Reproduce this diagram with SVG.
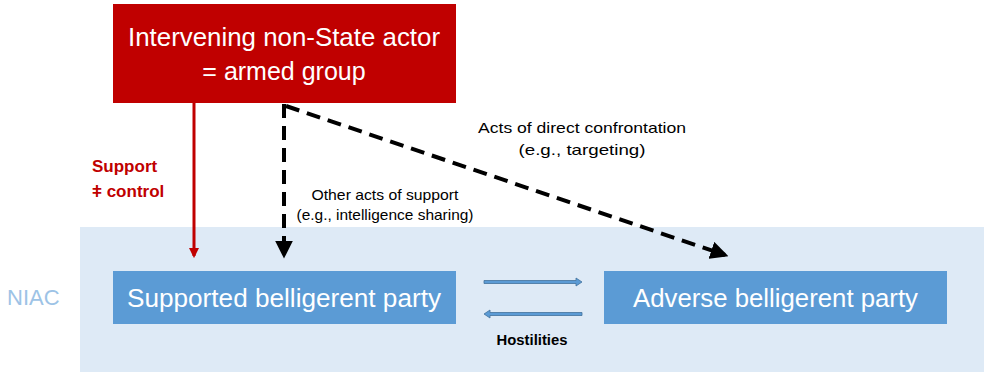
<svg xmlns="http://www.w3.org/2000/svg" width="984" height="372" viewBox="0 0 984 372">
  <defs>
    <style>
      text { font-family: "Liberation Sans", "Open Sans", sans-serif; }
      .box-red { fill: #C00000; }
      .box-blue { fill: #5B9BD5; }
      .t-box { fill: #FFFFFF; font-size: 25px; text-anchor: middle; }
      .t-lbl { fill: #000000; font-size: 15px; text-anchor: middle; }
      .dash { stroke: #000000; stroke-width: 4; stroke-dasharray: 14 8; fill: none; }
      .hostile { fill: #5B9BD5; stroke: #41719C; stroke-width: 0.8; }
    </style>
    <marker id="ah-black" viewBox="0 0 10 10" refX="8" refY="5" markerWidth="4.5" markerHeight="4.5" orient="auto" markerUnits="strokeWidth">
      <path d="M0,0 L10,5 L0,10 Z" fill="#000000"/>
    </marker>
    <marker id="ah-red" viewBox="0 0 10 10" refX="8" refY="5" markerWidth="3.5" markerHeight="3.5" orient="auto" markerUnits="strokeWidth">
      <path d="M0,0 L10,5 L0,10 Z" fill="#C00000"/>
    </marker>
  </defs>

  <!-- NIAC zone -->
  <g id="niac">
    <rect x="80" y="227" width="904" height="145" fill="#DEEAF6"/>
    <text x="7" y="305" font-size="22" fill="#9DC3E6">NIAC</text>
  </g>

  <!-- connectors -->
  <g id="connectors">
    <line x1="194" y1="103" x2="194" y2="256" stroke="#C00000" stroke-width="3" marker-end="url(#ah-red)"/>
    <line class="dash" x1="284" y1="104" x2="284" y2="255" marker-end="url(#ah-black)"/>
    <line class="dash" x1="286" y1="106" x2="725" y2="255" marker-end="url(#ah-black)"/>
    <polygon class="hostile" points="484,280.5 576,280.5 576,278 582,282 576,286 576,283.5 484,283.5"/>
    <polygon class="hostile" points="582,312.5 490,312.5 490,310 484,314 490,318 490,315.5 582,315.5"/>
  </g>

  <g id="actor">
    <rect class="box-red" x="113" y="4" width="343" height="99"/>
    <text class="t-box" x="284" y="46" font-size="27" textLength="312" lengthAdjust="spacingAndGlyphs">Intervening non-State actor</text>
    <text class="t-box" x="284" y="80" font-size="27">= armed group</text>
  </g>

  <g id="supported">
    <rect class="box-blue" x="113" y="271" width="343" height="53"/>
    <text class="t-box" x="284" y="307" textLength="314" lengthAdjust="spacingAndGlyphs">Supported belligerent party</text>
  </g>

  <g id="adverse">
    <rect class="box-blue" x="604" y="271" width="343" height="53"/>
    <text class="t-box" x="775.5" y="307" textLength="285" lengthAdjust="spacingAndGlyphs">Adverse belligerent party</text>
  </g>

  <g id="labels">
    <text x="92" y="172" font-size="17" font-weight="bold" fill="#C00000">Support</text>
    <text x="92" y="197" font-size="17" font-weight="bold" fill="#C00000">ǂ control</text>
    <text class="t-lbl" x="582" y="133" textLength="208" lengthAdjust="spacingAndGlyphs">Acts of direct confrontation</text>
    <text class="t-lbl" x="582" y="155" textLength="127" lengthAdjust="spacingAndGlyphs">(e.g., targeting)</text>
    <text class="t-lbl" x="385" y="200" textLength="147" lengthAdjust="spacingAndGlyphs">Other acts of support</text>
    <text class="t-lbl" x="385" y="220" textLength="177" lengthAdjust="spacingAndGlyphs">(e.g., intelligence sharing)</text>
    <text class="t-lbl" x="532" y="345" font-weight="bold" textLength="71" lengthAdjust="spacingAndGlyphs">Hostilities</text>
  </g>
</svg>
